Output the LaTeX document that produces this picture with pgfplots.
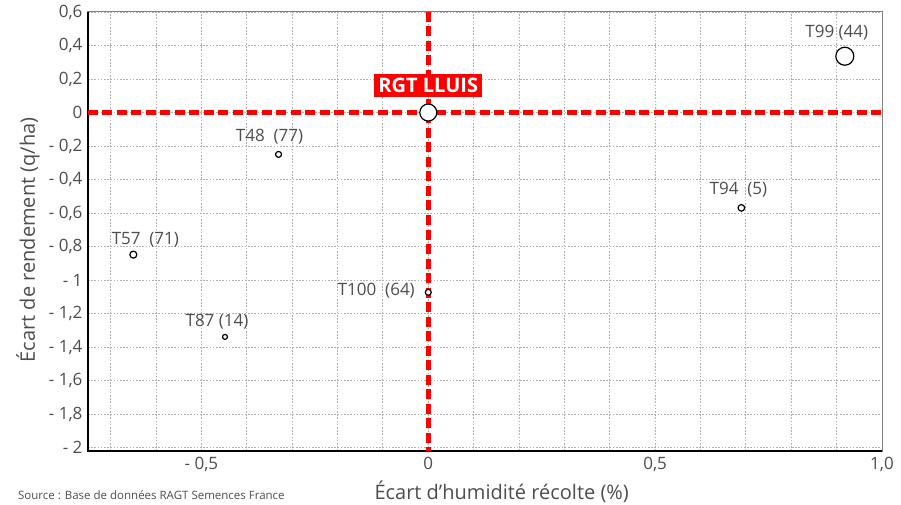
\documentclass[border=0pt]{standalone}
\usepackage{fontspec}
\setmainfont{Open Sans}
\usepackage{pgfplots}
\pgfplotsset{compat=1.18}
\definecolor{txt}{HTML}{4D4D4D}
\definecolor{gridc}{HTML}{B0B0B0}
\definecolor{frame}{HTML}{808080}
\tikzset{lbl/.style={font=\fontsize{17}{20}\selectfont, text=txt, anchor=center}}
\begin{document}
\begin{tikzpicture}
\begin{axis}[
  scale only axis, width=794pt, height=439pt,
  xmin=-0.75, xmax=1.0, ymin=-2.02, ymax=0.6,
  xtick={-0.5,0,0.5,1},
  xticklabels={{- 0,5},{0},{0,5},{1,0}},
  minor xtick={-0.7,-0.6,-0.4,-0.3,-0.2,-0.1,0.1,0.2,0.3,0.4,0.6,0.7,0.8,0.9},
  ytick={-2,-1.8,-1.6,-1.4,-1.2,-1,-0.8,-0.6,-0.4,-0.2,0,0.2,0.4,0.6},
  yticklabels={{- 2},{- 1,8},{- 1,6},{- 1,4},{- 1,2},{- 1},{- 0,8},{- 0,6},{- 0,4},{- 0,2},{0},{0,2},{0,4},{0,6}},
  grid=both,
  major grid style={gridc, line width=0.9pt, dash pattern=on 1.6pt off 1.6pt},
  minor grid style={gridc, line width=0.9pt, dash pattern=on 1.6pt off 1.6pt},
  major tick length=0pt, minor tick length=0pt,
  axis line style={frame, line width=1pt},
  tick label style={font=\fontsize{17}{20}\selectfont, text=txt},
  yticklabel style={xshift=-2pt},
  xticklabel style={yshift=-3pt},
  xlabel={Écart d’humidité récolte (\%)},
  ylabel={Écart de rendement (q/ha)},
  label style={font=\fontsize{20}{24}\selectfont, text=txt},
  xlabel style={at={(axis description cs:0.521,-0.093)}, anchor=center},
  ylabel style={at={(axis description cs:-0.0756,0.481)}, anchor=center},
  clip=false,
  every axis plot/.append style={mark=*, only marks, mark options={fill=white, draw=black, line width=1.2pt}},
]
% frame left & bottom in black
\draw[black, line width=1.5pt] (rel axis cs:0,1) -- (rel axis cs:0,0) -- (rel axis cs:1,0);
% reference lines
\addplot[red, line width=4.5pt, dash pattern=on 10pt off 4.5pt, mark=none, sharp plot] coordinates {(-0.75,0) (1.0,0)};
\addplot[red, line width=4.5pt, dash pattern=on 10pt off 4.5pt, mark=none, sharp plot] coordinates {(0,0.6) (0,-2.02)};
% points
\addplot[mark size=9pt] coordinates {(0.918,0.336)} node[lbl, xshift=-8pt, yshift=24pt] {T99 (44)};
\addplot[mark size=3.3pt] coordinates {(0.69,-0.569)} node[lbl, xshift=-3pt, yshift=18pt] {T94 \ (5)};
\addplot[mark size=3pt] coordinates {(-0.33,-0.25)} node[lbl, xshift=-9pt, yshift=18pt] {T48 \ (77)};
\addplot[mark size=3.5pt] coordinates {(-0.65,-0.848)} node[lbl, xshift=12pt, yshift=15pt] {T57 \ (71)};
\addplot[mark size=2.5pt] coordinates {(-0.448,-1.339)} node[lbl, xshift=-8pt, yshift=15pt] {T87 (14)};
\addplot[mark size=3pt] coordinates {(0,-1.073)} node[lbl, anchor=east, xshift=-10pt, yshift=2pt] {T100 \ (64)};
\addplot[mark size=8.5pt] coordinates {(0,0)} node[fill=red, text=white, font=\bfseries\fontsize{20}{22}\selectfont, inner xsep=4pt, inner ysep=4pt, anchor=center, yshift=27pt] {RGT LLUIS};
\node[font=\fontsize{11.5}{14}\selectfont, text=txt, anchor=base west, inner sep=0pt] at (axis description cs:-0.0882,-0.1107) {Source : Base de données RAGT Semences France};
\coordinate (bl) at (axis description cs:-0.1108,-0.1207);
\coordinate (tr) at (axis description cs:1.0239,1.0273);
\end{axis}
\pgfresetboundingbox
\path[use as bounding box] (bl) rectangle (tr);
\end{tikzpicture}
\end{document}
